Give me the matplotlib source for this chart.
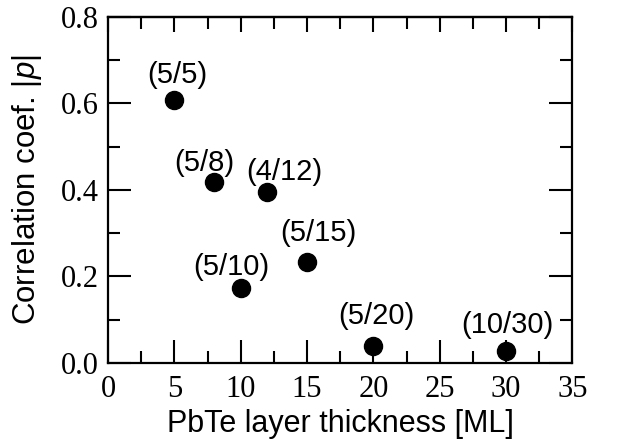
import matplotlib
matplotlib.use('Agg')
import matplotlib.pyplot as plt
from matplotlib.ticker import MultipleLocator

# thickness of PbTe layer vs correlation coefficient |p|
thickness = [5, 8, 12, 10, 15, 20, 30]
corr = [0.608, 0.418, 0.394, 0.173, 0.233, 0.038, 0.028]
labels = ['(5/5)', '(5/8)', '(4/12)', '(5/10)', '(5/15)', '(5/20)', '(10/30)']
# label offsets in pixels from each point
label_offsets = [(3, 25), (-10, 19), (17, 20), (-9, 21), (11, 29), (3, 30), (1, 26)]

plt.rcParams['mathtext.fontset'] = 'custom'
plt.rcParams['mathtext.rm'] = 'Liberation Sans'
plt.rcParams['mathtext.it'] = 'Liberation Sans:italic'

fig = plt.figure(figsize=(6.18, 4.43), dpi=100)
ax = fig.add_axes([0.175, 0.181, 0.751, 0.781])

ax.plot(thickness, corr, 'o', color='black', markersize=13, clip_on=False)
for x, y, lab, (dx, dy) in zip(thickness, corr, labels, label_offsets):
    ax.annotate(lab, (x, y), xytext=(dx, dy), textcoords='offset pixels',
                ha='center', va='center', fontsize=21, family='Liberation Sans')

ax.set_xlim(0, 35)
ax.set_ylim(0, 0.8)
ax.xaxis.set_major_locator(MultipleLocator(5))
ax.xaxis.set_minor_locator(MultipleLocator(2.5))
ax.yaxis.set_major_locator(MultipleLocator(0.2))
ax.yaxis.set_minor_locator(MultipleLocator(0.1))
ax.yaxis.set_major_formatter(plt.FormatStrFormatter('%.1f'))

for s in ax.spines.values():
    s.set_linewidth(1.6)
ax.tick_params(which='both', direction='in', width=1.5, left=True, right=True,
               bottom=True, top=False)
ax.tick_params(which='major', length=16.5)
ax.tick_params(which='minor', length=8.5)
for lab in ax.get_xticklabels() + ax.get_yticklabels():
    lab.set_family('Liberation Serif')
    lab.set_fontsize(22)
ax.tick_params(axis='x', pad=8.5)
ax.tick_params(axis='y', pad=6.5)

# shorter ticks along the top edge
top = ax.secondary_xaxis('top')
top.xaxis.set_major_locator(MultipleLocator(5))
top.xaxis.set_minor_locator(MultipleLocator(2.5))
top.tick_params(which='both', direction='in', width=1.5, labeltop=False)
top.tick_params(which='major', length=11)
top.tick_params(which='minor', length=8.5)
top.spines['top'].set_linewidth(1.6)

ax.set_xlabel('PbTe layer thickness [ML]', fontsize=22, family='Liberation Sans', labelpad=4)
ax.set_ylabel(r'Correlation coef. |$\it{p}$|', fontsize=22.5, family='Liberation Sans', labelpad=12)

fig.savefig('out.png', dpi=100)
